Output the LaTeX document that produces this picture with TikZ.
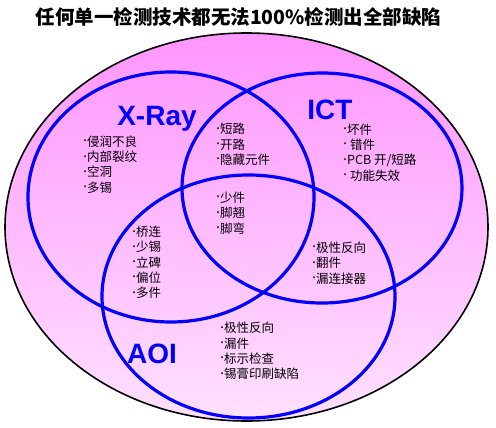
\documentclass[tikz,border=0pt]{standalone}
\usepackage{fontspec}
\setmainfont{Noto Sans CJK SC}
\setsansfont{Liberation Sans}
\usetikzlibrary{shapes.geometric}
\definecolor{venblue}{RGB}{0,0,255}
\definecolor{pinktop}{RGB}{255,150,255}
\definecolor{pinkbot}{RGB}{255,224,255}
\definecolor{dotbrown}{RGB}{70,30,10}
\newcommand{\itm}[1]{\makebox[7pt][l]{\raisebox{1.6pt}{\textcolor{dotbrown}{\fontsize{10}{10}\selectfont •}}}#1}

\begin{document}
\begin{tikzpicture}[x=1pt, y=-1pt,
            ring/.style={ellipse, draw=venblue, line width=3.2pt, inner sep=0pt},
            tag/.style={anchor=base, text=venblue, font=\sffamily\bfseries\fontsize{28}{28}\selectfont},
            lst/.style={anchor=west, align=left, inner sep=0pt, font=\fontsize{12.5}{15.3}\selectfont}]
            \useasboundingbox (0,0) rectangle (496,428);
            \node [font=\bfseries\fontsize{19.5}{20}\selectfont] (title) at (238.5,17) {任何单一检测技术都无法100\%检测出全部缺陷};
            \node [ellipse, draw=black, line width=1.6pt, top color=pinktop, bottom color=pinkbot, minimum width=483pt, minimum height=388pt, inner sep=0pt] (field) at (246.5,227) {};

            \node [ring, minimum width=286pt, minimum height=250pt] (xray) at (171,197) {};
            \node [ring, minimum width=280pt, minimum height=230pt] (ict) at (322,188) {};
            \node [ring, minimum width=293pt, minimum height=243pt] (aoi) at (248.5,296.5) {};

            \node [tag] (xraytag) at (157,125) {X-Ray};
            \node [tag] (icttag) at (330,120) {ICT};
            \node [tag] (aoitag) at (152,363) {AOI};

            \node [lst] (xraylst) at (80,164.5) {\itm{侵润不良}\\\itm{内部裂纹}\\\itm{空洞}\\\itm{多锡}};
            \node [lst] (xilst) at (213,144.5) {\itm{短路}\\\itm{开路}\\\itm{隐藏元件}};
            \node [lst] (ictlst) at (340,152.5) {\itm{坏件}\\\itm{~错件}\\\itm{PCB 开/短路}\\\itm{~功能失效}};
            \node [lst] (alllst) at (213,213) {\itm{少件}\\\itm{脚翘}\\\itm{脚弯}};
            \node [lst] (xalst) at (129,262.5) {\itm{桥连}\\\itm{少锡}\\\itm{立碑}\\\itm{偏位}\\\itm{多件}};
            \node [lst] (ialst) at (309,263) {\itm{极性反向}\\\itm{翻件}\\\itm{漏连接器}};
            \node [lst] (aoilst) at (217,351) {\itm{极性反向}\\\itm{漏件}\\\itm{标示检查}\\\itm{锡膏印刷缺陷}};
        \end{tikzpicture}
\end{document}
